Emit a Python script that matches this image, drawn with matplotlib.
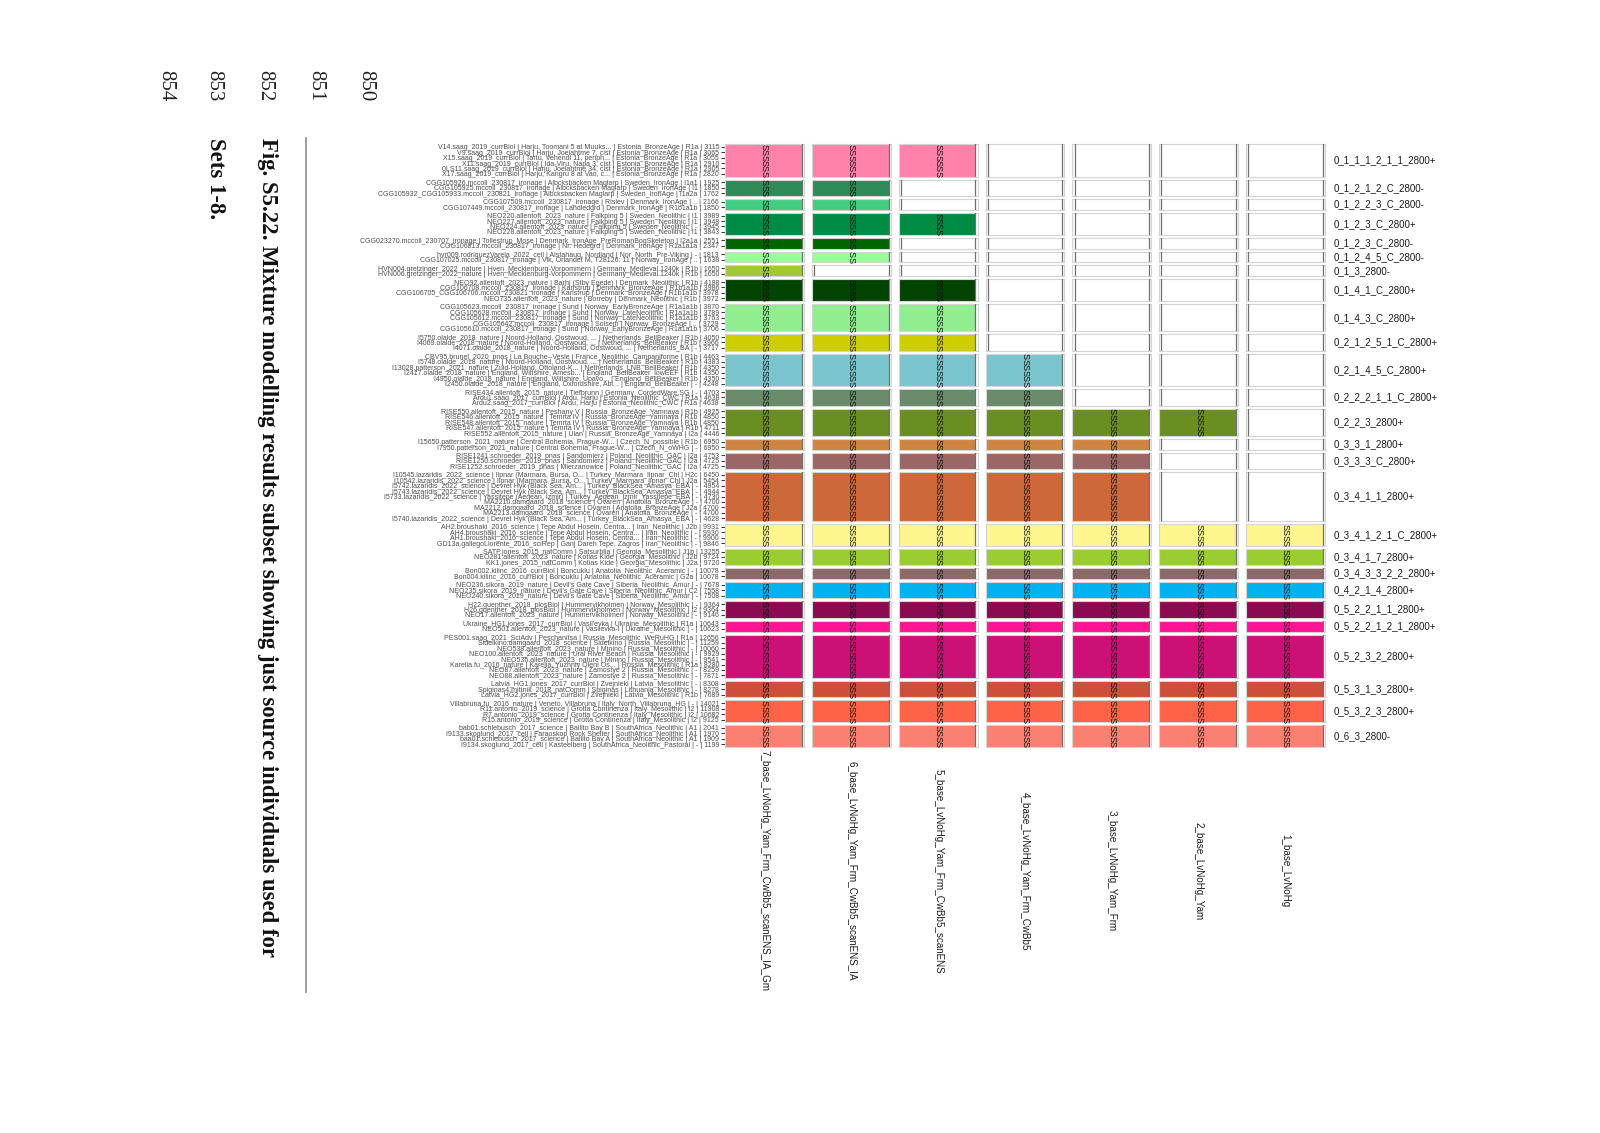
import matplotlib
matplotlib.use("Agg")
import matplotlib.pyplot as plt

plt.rcParams['font.family'] = ['Liberation Sans', 'DejaVu Sans']

# model columns, left to right
models = ["7_base_LvNoHg_Yam_Frm_CwBb5_scanENS_IA_Gm",
          "6_base_LvNoHg_Yam_Frm_CwBb5_scanENS_IA",
          "5_base_LvNoHg_Yam_Frm_CwBb5_scanENS",
          "4_base_LvNoHg_Yam_Frm_CwBb5",
          "3_base_LvNoHg_Yam_Frm",
          "2_base_LvNoHg_Yam",
          "1_base_LvNoHg"]
model_num = [7, 6, 5, 4, 3, 2, 1]

groups = ["0_1_1_1_2_1_1_2800+", "0_1_2_1_2_C_2800-", "0_1_2_2_3_C_2800-",
          "0_1_2_3_C_2800+", "0_1_2_3_C_2800-", "0_1_2_4_5_C_2800-",
          "0_1_3_2800-", "0_1_4_1_C_2800+", "0_1_4_3_C_2800+",
          "0_2_1_2_5_1_C_2800+", "0_2_1_4_5_C_2800+", "0_2_2_2_1_1_C_2800+",
          "0_2_2_3_2800+", "0_3_3_1_2800+", "0_3_3_3_C_2800+",
          "0_3_4_1_1_2800+", "0_3_4_1_2_1_C_2800+", "0_3_4_1_7_2800+",
          "0_3_4_3_3_2_2_2800+", "0_4_2_1_4_2800+", "0_5_2_2_1_1_2800+",
          "0_5_2_2_1_2_1_2800+", "0_5_2_3_2_2800+", "0_5_3_1_3_2800+",
          "0_5_3_2_3_2800+", "0_6_3_2800-"]

group_colors = ["#FF82AB", "#2E8B57", "#43CD80", "#008B45", "#006400", "#9AFF9A",
                "#A2C935", "#004400", "#90EE90", "#CDCD00", "#7AC5CD", "#698B69",
                "#6B8E23", "#CD853F", "#9B6666", "#CD6839", "#FFF68F", "#9ACD32",
                "#8B6969", "#00B2EE", "#8B0A50", "#FF1493", "#CD1076", "#CD4F39",
                "#FF6347", "#FA8072"]

# smallest model number in which the group is used as a source
first_model = [5, 6, 6, 5, 6, 6, 7, 5, 5, 5, 4, 4, 2, 3, 3, 3,
               1, 1, 1, 1, 1, 1, 1, 1, 1, 1]

samples = [
    ["V14.saag_2019_currBiol | Harju, Toomani 5 at Muuks... | Estonia_BronzeAge | R1a | 3115",
     "V9.saag_2019_currBiol | Harju, Joelahtme 7, cist | Estonia_BronzeAge | R1a | 3065",
     "X15.saag_2019_currBiol | Tartu, Vehendi 11, periph... | Estonia_BronzeAge | R1a | 3055",
     "X11.saag_2019_currBiol | Ida-Viru, Napa 3, cist | Estonia_BronzeAge | R1a | 2910",
     "0LS11.saag_2019_currBiol | Harju, Joelahtme 34, cist | Estonia_BronzeAge | R1a | 2905",
     "X17.saag_2019_currBiol | Harju, Kangru 8 at Vao, c... | Estonia_BronzeAge | R1a | 2820"],
    ["CGG105926.mccoll_230817_ironage | Albcksbacken Maglarp | Sweden_IronAge | I1a1 | 1925",
     "CGG105925.mccoll_230817_ironage | Albcksbacken Maglarp | Sweden_IronAge | I1 | 1850",
     "CGG105932_CGG105933.mccoll_230821_ironage | Albcksbacken Maglarp | Sweden_IronAge | I1a2a | 1762"],
    ["CGG107509.mccoll_230817_ironage | Rislev | Denmark_IronAge | .. | 2166",
     "CGG107449.mccoll_230817_ironage | Landledgrd | Denmark_IronAge | R1b1a1b | 1850"],
    ["NEO220.allentoft_2023_nature | Falkping 5 | Sweden_Neolithic | I1 | 3989",
     "NEO227.allentoft_2023_nature | Falkping 5 | Sweden_Neolithic | I1 | 3948",
     "NEO224.allentoft_2023_nature | Falkping 5 | Sweden_Neolithic | - | 3945",
     "NEO228.allentoft_2023_nature | Falkping 5 | Sweden_Neolithic | I1 | 3843"],
    ["CGG023270.mccoll_230707_ironage | Tollestrup_Mose | Denmark_IronAge_PreRomanBogSkeleton | I2a1a | 2551",
     "CGG106813.mccoll_230817_ironage | Nr. Hedegrd | Denmark_IronAge | R1a1a1a | 2347"],
    ["hvr009.rodriguezVarela_2022_cell | Alstahaug, Nordland | Nor_North_Pre-Viking | - | 1813",
     "CGG107025.mccoll_230817_ironage | Vik, Orlandet M, T28126: 11 | Norway_IronAge | .. | 1638"],
    ["HVN004.gretzinger_2022_nature | Hven_Mecklenburg-Vorpommern | Germany_Medieval.1240k | R1b | 1650",
     "HVN006.gretzinger_2022_nature | Hven_Mecklenburg-Vorpommern | Germany_Medieval.1240k | R1b | 1650"],
    ["NEO92.allentoft_2023_nature | Barhj (Stby Egede) | Denmark_Neolithic | R1b | 4188",
     "CGG106708.mccoll_230817_ironage | Karlstrup | Denmark_BronzeAge | R1b1a1b | 3986",
     "CGG106705_CGG106706.mccoll_230821_ironage | Karlstrup | Denmark_BronzeAge | R1b1a1b | 3978",
     "NEO735.allentoft_2023_nature | Borreby | Denmark_Neolithic | R1b | 3972"],
    ["CGG105623.mccoll_230817_ironage | Sund | Norway_EarlyBronzeAge | R1a1a1b | 3870",
     "CGG105628.mccoll_230817_ironage | Sund | Norway_LateNeolithic | R1a1a1b | 3789",
     "CGG105612.mccoll_230817_ironage | Sund | Norway_LateNeolithic | R1a1a1b | 3763",
     "CGG105642.mccoll_230817_ironage | Soisem | Norway_BronzeAge | .. | 3729",
     "CGG105610.mccoll_230817_ironage | Sund | Norway_EarlyBronzeAge | R1a1a1b | 3706"],
    ["I5750.olalde_2018_nature | Noord-Holland, Oostwoud, ... | Netherlands_BellBeaker | R1b | 4050",
     "I4069.olalde_2018_nature | Noord-Holland, Oostwoud, ... | Netherlands_BellBeaker | R1b | 3966",
     "I4071.olalde_2018_nature | Noord-Holland, Oostwoud, ... | Netherlands_BA | - | 3717"],
    ["CBV95.brunel_2020_pnas | La Bouche--Vesle | France_Neolithic_Campaniforme | R1b | 4463",
     "I5748.olalde_2018_nature | Noord-Holland, Oostwoud, ... | Netherlands_BellBeaker | R1b | 4383",
     "I13028.patterson_2021_nature | Zuid-Holland, Ottoland-K... | Netherlands_LNB_BellBeaker | R1b | 4350",
     "I2417.olalde_2018_nature | England, Wiltshire, Amesb... | England_BellBeaker_lowEEF | R1b | 4350",
     "I4950.olalde_2018_nature | England, Wiltshire, Upavo... | England_BellBeaker | R1b | 4350",
     "I2450.olalde_2018_nature | England, Oxfordshire, Abi... | England_BellBeaker | - | 4248"],
    ["RISE434.allentoft_2015_nature | Tiefbrunn | Germany_CordedWare.SG | - | 4703",
     "Ardu1.saag_2017_currBiol | Ardu, Harju | Estonia_Neolithic_CWC | R1a | 4638",
     "Ardu2.saag_2017_currBiol | Ardu, Harju | Estonia_Neolithic_CWC | R1a | 4638"],
    ["RISE550.allentoft_2015_nature | Peshany V | Russia_BronzeAge_Yamnaya | R1b | 4925",
     "RISE546.allentoft_2015_nature | Temrta IV | Russia_BronzeAge_Yamnaya | R1b | 4850",
     "RISE548.allentoft_2015_nature | Temrta IV | Russia_BronzeAge_Yamnaya | R1b | 4850",
     "RISE547.allentoft_2015_nature | Temrta IV | Russia_BronzeAge_Yamnaya | R1b | 4711",
     "RISE552.allentoft_2015_nature | Ulan | Russia_BronzeAge_Yamnaya | I2a | 4446"],
    ["I15650.patterson_2021_nature | Central Bohemia, Prague-W... | Czech_N_possible | R1b | 6950",
     "I7950.patterson_2021_nature | Central Bohemia, Prague-W... | Czech_N_oWHG | - | 6950"],
    ["RISE1241.schroeder_2019_pnas | Sandomierz | Poland_Neolithic_GAC | I2a | 4753",
     "RISE1250.schroeder_2019_pnas | Sandomierz | Poland_Neolithic_GAC | I2a | 4725",
     "RISE1252.schroeder_2019_pnas | Mierzanowice | Poland_Neolithic_GAC | I2a | 4725"],
    ["I10545.lazaridis_2022_science | Ilpnar (Marmara, Bursa, O... | Turkey_Marmara_Ilpnar_Chl | H2c | 6450",
     "I10542.lazaridis_2022_science | Ilpnar (Marmara, Bursa, O... | Turkey_Marmara_Ilpnar_Chl | J2a | 5454",
     "I5742.lazaridis_2022_science | Devret Hyk (Black Sea, Am... | Turkey_BlackSea_Amasya_EBA | - | 4954",
     "I5743.lazaridis_2022_science | Devret Hyk (Black Sea, Am... | Turkey_BlackSea_Amasya_EBA | - | 4944",
     "I5733.lazaridis_2022_science | Yassitepe (Aegean, Izmir) | Turkey_Aegean_Izmir_Yassitepe_EBA | - | 4730",
     "MA2210.damgaard_2018_science | Ovaren | Anatolia_BronzeAge | - | 4700",
     "MA2212.damgaard_2018_science | Ovaren | Anatolia_BronzeAge | J2a | 4700",
     "MA2213.damgaard_2018_science | Ovaren | Anatolia_BronzeAge | - | 4700",
     "I5740.lazaridis_2022_science | Devret Hyk (Black Sea, Am... | Turkey_BlackSea_Amasya_EBA | - | 4628"],
    ["AH2.broushaki_2016_science | Tepe Abdul Hosein, Centra... | Iran_Neolithic | J2b | 9931",
     "AH4.broushaki_2016_science | Tepe Abdul Hosein, Centra... | Iran_Neolithic | - | 9930",
     "AH1.broushaki_2016_science | Tepe Abdul Hosein, Centra... | Iran_Neolithic | - | 9900",
     "GD13a.gallegoLlorente_2016_sciRep | Ganj Dareh Tepe, Zagros | Iran_Neolithic | - | 9846"],
    ["SATP.jones_2015_natComm | Satsurblia | Georgia_Mesolithic | J1b | 13255",
     "NEO281.allentoft_2023_nature | Kotias Kide | Georgia_Mesolithic | J2b | 9724",
     "KK1.jones_2015_natComm | Kotias Kide | Georgia_Mesolithic | J2a | 9720"],
    ["Bon002.kilinc_2016_currBiol | Boncuklu | Anatolia_Neolithic_Aceramic | - | 10078",
     "Bon004.kilinc_2016_currBiol | Boncuklu | Anatolia_Neolithic_Aceramic | G2a | 10078"],
    ["NEO236.sikora_2019_nature | Devil's Gate Cave | Siberia_Neolithic_Amur | - | 7678",
     "NEO235.sikora_2019_nature | Devil's Gate Cave | Siberia_Neolithic_Amur | C2 | 7558",
     "NEO240.sikora_2019_nature | Devil's Gate Cave | Siberia_Neolithic_Amur | - | 7508"],
    ["H22.guenther_2018_plosBiol | Hummervikholmen | Norway_Mesolithic | - | 9364",
     "H26.guenther_2018_plosBiol | Hummervikholmen | Norway_Mesolithic | I2 | 9364",
     "NEO17.allentoft_2023_nature | Hummervikholmen | Norway_Mesolithic | - | 9146"],
    ["Ukraine_HG1.jones_2017_currBiol | Vasil'evka | Ukraine_Mesolithic | R1a | 10643",
     "NEO501.allentoft_2023_nature | Vasilevka-I | Ukraine_Mesolithic | - | 10623"],
    ["PES001.saag_2021_SciAdv | Peschanitsa | Russia_Mesolithic_WeRuHG | R1a | 12656",
     "Sidelkino.damgaard_2018_science | Sidelkino | Russia_Mesolithic | - | 11259",
     "NEO538.allentoft_2023_nature | Minino | Russia_Mesolithic | - | 10060",
     "NEO100.allentoft_2023_nature | Ural River Beach | Russia_Mesolithic | - | 9929",
     "NEO536.allentoft_2023_nature | Minino | Russia_Mesolithic | - | 9541",
     "Karelia.fu_2016_nature | Karelia, Yuzhniy Oleni Os... | Russia_Mesolithic | R1a | 8280",
     "NEO87.allentoft_2023_nature | Zamostye 2 | Russia_Mesolithic | - | 8259",
     "NEO88.allentoft_2023_nature | Zamostye 2 | Russia_Mesolithic | - | 7871"],
    ["Latvia_HG1.jones_2017_currBiol | Zvejnieki | Latvia_Mesolithic | - | 8308",
     "Spiginas4.mittnik_2018_natComm | Spiginas | Lithuania_Mesolithic | - | 8278",
     "Latvia_HG2.jones_2017_currBiol | Zvejnieki | Latvia_Mesolithic | R1b | 7689"],
    ["Villabruna.fu_2016_nature | Veneto, Villabruna | Italy_North_Villabruna_HG | - | 14021",
     "R11.antonio_2019_science | Grotta Continenza | Italy_Mesolithic | I2 | 11908",
     "R7.antonio_2019_science | Grotta Continenza | Italy_Mesolithic | I2 | 10682",
     "R15.antonio_2019_science | Grotta Continenza | Italy_Mesolithic | I2 | 9125"],
    ["bab01.schlebusch_2017_science | Ballito Bay B | SouthAfrica_Neolithic | A1 | 2041",
     "I9133.skoglund_2017_cell | Faraoskop Rock Shelter | SouthAfrica_Neolithic | A1 | 1970",
     "baa01.schlebusch_2017_science | Ballito Bay A | SouthAfrica_Neolithic | A1 | 1909",
     "I9134.skoglund_2017_cell | Kasteelberg | SouthAfrica_Neolithic_Pastoral | - | 1199"],
]

line_numbers = ["850", "851", "852", "853", "854"]
caption = "Fig. S5.22. Mixture modelling results subset showing just source individuals used for"
caption2 = "Sets 1-8."

W, H = 1600, 1133
fig = plt.figure(figsize=(16, 11.33), dpi=100)

gs = fig.add_gridspec(len(groups), len(models),
                      height_ratios=[len(s) for s in samples],
                      left=725 / W, right=1325 / W,
                      top=1 - 144 / H, bottom=1 - 747 / H,
                      wspace=0.10, hspace=0.148)

for gi in range(len(groups)):
    n = len(samples[gi])
    for mi in range(len(models)):
        ax = fig.add_subplot(gs[gi, mi])
        ax.set_xlim(-0.03, 1.03)
        ax.set_ylim(n - 0.5, -0.5)
        if model_num[mi] >= first_model[gi]:
            ax.barh(range(n), 1.03, left=-0.03, height=1,
                    color=group_colors[gi], linewidth=0, zorder=1)
            for k in range(n):
                ax.text(0.5, k, "S", rotation=270, ha='center', va='center',
                        fontsize=6.5, color='#111111', zorder=4)
        else:
            ax.axvline(0, color='#6e6e6e', linewidth=0.9, zorder=3)
        ax.axvline(1, color='#6e6e6e', linewidth=0.9, zorder=3)
        ax.set_xticks([])
        for side in ax.spines:
            ax.spines[side].set_color('#d4d4d4')
            ax.spines[side].set_linewidth(0.8)
        if mi == 0:
            ax.set_yticks(range(n))
            ax.set_yticklabels(samples[gi], fontsize=5.0, color='#4d4d4d')
            ax.tick_params(axis='y', length=2.8, width=0.7, color='#333333', pad=1.5)
        else:
            ax.set_yticks([])
        if mi == len(models) - 1:
            ax.annotate(groups[gi], xy=(1, 0.5), xycoords='axes fraction',
                        xytext=(6, 0), textcoords='offset points',
                        ha='left', va='center', fontsize=7, color='#1a1a1a')

# model names under the columns
for mi in range(len(models)):
    pos = gs[0, mi].get_position(fig)
    fig.text((pos.x0 + pos.x1) / 2, 1 - 871 / H, models[mi], rotation=270,
             ha='center', va='center', fontsize=7.1, color='#1a1a1a')

# page furniture: line numbers, caption and rule
line_x = [366, 316, 265, 214, 166]
for t, x in zip(line_numbers, line_x):
    fig.text(x / W, 1 - 70 / H, t, rotation=270, ha='center', va='top',
             fontsize=15, family='Liberation Serif', color='#222222')
fig.text(267 / W, 1 - 138 / H, caption, rotation=270, ha='center', va='top',
         fontsize=16.4, family='Liberation Serif', weight='bold', color='#111111')
fig.text(216 / W, 1 - 138 / H, caption2, rotation=270, ha='center', va='top',
         fontsize=16.4, family='Liberation Serif', weight='bold', color='#111111')
fig.add_artist(plt.Line2D([306 / W, 306 / W], [1 - 138 / H, 1 - 992 / H],
                          color='#8c8c8c', linewidth=1.2))

fig.savefig("out.png", dpi=100)
